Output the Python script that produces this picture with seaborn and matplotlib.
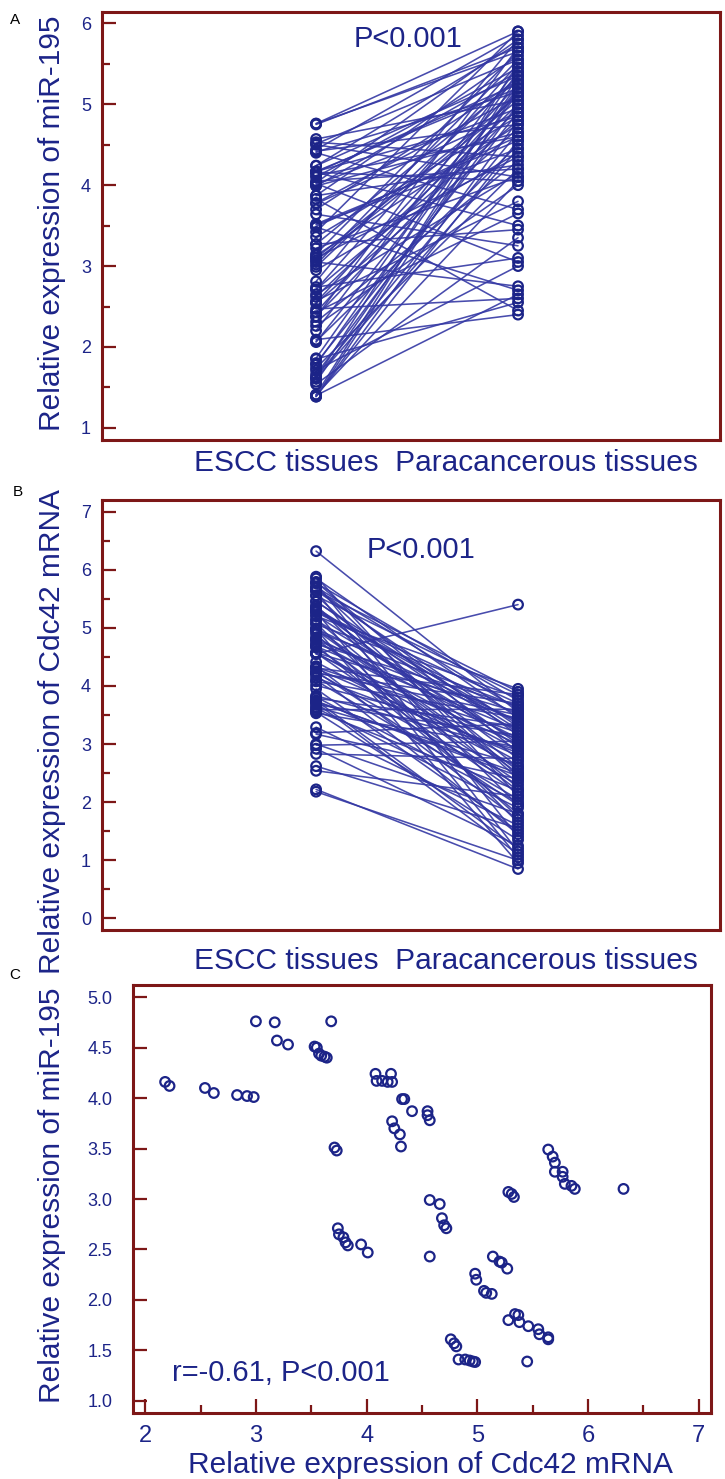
import pandas as pd
import matplotlib
matplotlib.use("Agg")
import matplotlib.pyplot as plt
import seaborn as sns
from matplotlib.ticker import MultipleLocator

# x categories for the paired panels
groups = ["ESCC tissues", "Paracancerous tissues"]

# miR-195 in ESCC tissue (same patients as the y values of panel C)
mir195_escc = [4.16, 4.12, 4.10, 4.05, 4.03, 4.02, 4.01, 4.76, 4.75, 4.57,
               4.53, 4.51, 4.50, 4.44, 4.42, 4.41, 4.40, 4.76, 3.51, 3.48,
               4.24, 4.17, 4.17, 4.16, 4.24, 4.16, 3.99, 3.99, 3.87, 3.87,
               3.83, 3.78, 3.77, 3.70, 3.64, 3.52, 2.71, 2.65, 2.62, 2.57,
               2.54, 2.55, 2.47, 2.99, 2.95, 2.81, 2.74, 2.71, 2.43, 2.26,
               2.20, 2.09, 2.07, 2.06, 2.43, 2.38, 2.37, 2.31, 3.07, 3.05,
               3.02, 3.49, 3.42, 3.36, 3.27, 3.27, 3.22, 3.15, 3.13, 3.10,
               3.10, 1.86, 1.85, 1.80, 1.78, 1.74, 1.71, 1.66, 1.63, 1.61,
               1.61, 1.57, 1.54, 1.41, 1.41, 1.40, 1.39, 1.385, 1.39]

# miR-195 in paracancerous tissue
mir195_para = [5.25, 4.60, 5.45, 4.20, 5.80, 3.05, 4.95, 5.90, 5.70, 5.05,
               4.35, 5.55, 4.10, 5.85, 4.75, 5.15, 3.70, 5.65, 4.45, 2.70,
               5.35, 4.85, 5.20, 4.05, 5.75, 3.50, 4.65, 5.40, 4.25, 5.60,
               2.45, 5.10, 4.90, 5.30, 3.25, 4.55, 5.50, 4.15, 5.00, 3.80,
               4.70, 5.25, 2.60, 5.35, 4.40, 5.80, 3.10, 4.80, 5.15, 4.00,
               5.45, 2.40, 4.50, 5.20, 3.65, 4.95, 5.70, 4.30, 5.05, 2.75,
               5.55, 4.60, 5.90, 4.85, 3.45, 5.30, 4.10, 5.65, 4.75, 5.10,
               4.35, 5.40, 2.55, 4.90, 5.25, 4.20, 3.00, 5.00, 4.65, 5.50,
               4.45, 5.15, 3.35, 4.05, 5.35, 2.65, 4.80, 5.20, 4.55]

# Cdc42 mRNA in ESCC tissue (x values of panel C)
cdc42_escc = [2.18, 2.22, 2.54, 2.62, 2.83, 2.92, 2.98, 3.00, 3.17, 3.19,
              3.29, 3.53, 3.55, 3.57, 3.59, 3.62, 3.64, 3.68, 3.71, 3.73,
              4.08, 4.09, 4.14, 4.19, 4.22, 4.23, 4.32, 4.34, 4.41, 4.55,
              4.55, 4.57, 4.23, 4.25, 4.30, 4.31, 3.74, 3.75, 3.79, 3.81,
              3.83, 3.95, 4.01, 4.57, 4.66, 4.68, 4.70, 4.72, 4.57, 4.98,
              4.99, 5.06, 5.08, 5.13, 5.14, 5.20, 5.22, 5.27, 5.28, 5.31,
              5.33, 5.64, 5.68, 5.70, 5.70, 5.77, 5.77, 5.79, 5.85, 5.88,
              6.32, 5.34, 5.37, 5.28, 5.38, 5.46, 5.55, 5.56, 5.64, 5.64,
              4.76, 4.79, 4.81, 4.83, 4.89, 4.93, 4.96, 4.98, 5.45]

# Cdc42 mRNA in paracancerous tissue
cdc42_para = [1.00, 0.85, 2.10, 1.55, 2.75, 1.25, 3.05, 1.80, 2.40, 3.35,
              1.60, 2.95, 1.35, 2.20, 3.60, 1.90, 2.65, 3.15, 1.10, 2.50,
              3.45, 2.05, 2.85, 1.45, 3.70, 2.30, 3.20, 1.70, 2.60, 5.40,
              3.00, 2.15, 3.50, 1.95, 2.80, 3.85, 2.45, 1.20, 3.30, 2.00,
              2.90, 1.50, 3.10, 3.55, 2.35, 3.25, 1.80, 3.65, 2.70, 3.40,
              2.55, 3.80, 1.65, 3.05, 2.25, 3.95, 2.95, 3.50, 1.05, 3.35,
              2.75, 3.90, 3.15, 2.45, 3.60, 1.40, 3.75, 2.85, 3.45, 2.10,
              3.55, 3.20, 2.60, 3.70, 1.95, 3.00, 3.85, 2.40, 3.30, 1.15,
              2.90, 3.40, 2.20, 3.10, 1.75, 3.65, 2.50, 0.95, 3.25]

NAVY = "#1c2488"
LINE = "#3438a4"
FRAME = "#7d1717"

sns.set_style("white")
plt.rcParams["font.family"] = ["Liberation Sans", "DejaVu Sans"]

W, H = 725, 1479
fig = plt.figure(figsize=(W / 100, H / 100), dpi=100)


def box(left, top, right, bottom):
    # pixel box -> figure fraction
    return [left / W, 1 - bottom / H, (right - left) / W, (bottom - top) / H]


def frame(ax):
    for sp in ax.spines.values():
        sp.set_visible(True)
        sp.set_color(FRAME)
        sp.set_linewidth(2.2)
    ax.tick_params(which="both", direction="in", color=FRAME, width=1.6,
                   labelcolor=NAVY)
    ax.tick_params(which="major", length=10)
    ax.tick_params(which="minor", length=6)
    ax.set_xlabel("")
    ax.set_ylabel("")


def paired(ax, escc, para, ylim):
    n = len(escc)
    df = pd.DataFrame({
        "pid": list(range(n)) * 2,
        "pos": [0] * n + [1] * n,
        "value": escc + para,
    })
    sns.lineplot(data=df, x="pos", y="value", units="pid", estimator=None,
                 color=LINE, lw=1.15, alpha=0.9, ax=ax, legend=False)
    sns.scatterplot(data=df, x="pos", y="value", s=48, facecolor="none",
                    edgecolor=NAVY, linewidth=1.6, ax=ax, zorder=3, legend=False)
    ax.set_xlim(-1.06, 2.0)
    ax.set_ylim(*ylim)
    ax.set_xticks([])
    ax.yaxis.set_major_locator(MultipleLocator(1))
    ax.yaxis.set_minor_locator(MultipleLocator(0.5))
    frame(ax)
    ax.tick_params(axis="y", which="both", left=True, labelsize=13, pad=8)


# Panel A
axA = fig.add_axes(box(102, 12, 720, 440))
paired(axA, mir195_escc, mir195_para, (0.85, 6.14))
axA.text(0.455, 5.81, "P<0.001", color=NAVY, fontsize=21, ha="center", va="center")

# Panel B
axB = fig.add_axes(box(102, 500, 720, 930))
paired(axB, cdc42_escc, cdc42_para, (-0.2, 7.2))
axB.text(0.52, 6.34, "P<0.001", color=NAVY, fontsize=21, ha="center", va="center")

# Panel C
axC = fig.add_axes(box(133, 985, 711, 1413))
sns.scatterplot(x=cdc42_escc, y=mir195_escc, s=48, facecolor="none",
                edgecolor=NAVY, linewidth=1.6, ax=axC, legend=False)
axC.set_xlim(1.89, 7.11)
axC.set_ylim(0.88, 5.12)
axC.xaxis.set_major_locator(MultipleLocator(1))
axC.xaxis.set_minor_locator(MultipleLocator(0.5))
axC.yaxis.set_major_locator(MultipleLocator(0.5))
axC.yaxis.set_major_formatter(lambda v, p: f"{v:.1f}")
frame(axC)
axC.tick_params(axis="x", which="both", bottom=True, labelsize=17, pad=9)
axC.tick_params(axis="y", which="both", left=True, labelsize=13, pad=15)
axC.text(2.24, 1.28, "r=-0.61, P<0.001", color=NAVY, fontsize=21, ha="left", va="center")

# axis titles and panel letters (pixel positions)
def ftext(x, y, s, **kw):
    fig.text(x / W, 1 - y / H, s, ha="center", va="center", **kw)

ftext(52, 223, "Relative expression of miR-195", rotation=90, fontsize=21.5, color=NAVY)
ftext(446, 463, "ESCC tissues  Paracancerous tissues", fontsize=21.5, color=NAVY)
ftext(52, 732, "Relative expression of Cdc42 mRNA", rotation=90, fontsize=21.5, color=NAVY)
ftext(446, 961, "ESCC tissues  Paracancerous tissues", fontsize=21.5, color=NAVY)
ftext(52, 1195, "Relative expression of miR-195", rotation=90, fontsize=21.5, color=NAVY)
ftext(430, 1465, "Relative expression of Cdc42 mRNA", fontsize=21.5, color=NAVY)

ftext(15, 20, "A", fontsize=11, color="black")
ftext(18, 492, "B", fontsize=11, color="black")
ftext(15, 975, "C", fontsize=11, color="black")

fig.savefig("out.png", dpi=100)
plt.close(fig)
